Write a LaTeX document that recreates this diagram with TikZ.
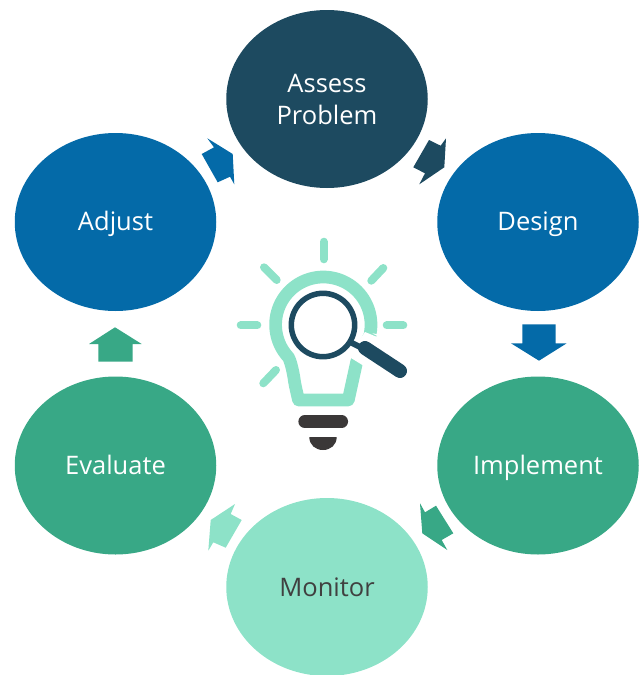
\documentclass[tikz,border=0pt]{standalone}
\usepackage{fontspec}
\setmainfont{Open Sans}
\usetikzlibrary{shapes.geometric}
\definecolor{mint}{HTML}{8DE2C8}
\definecolor{navy}{HTML}{1D4A60}
\definecolor{blueA}{HTML}{046AA8}
\definecolor{greenA}{HTML}{38A886}
\definecolor{baseC}{HTML}{3B3838}
\definecolor{txtC}{HTML}{404040}
\newcommand{\lineprop}{\rule[-6pt]{0pt}{30pt}}
\tikzset{
  stage/.style={ellipse,draw=none,inner sep=0pt,outer sep=0pt,minimum width=201.5pt,minimum height=178pt,
    align=center,text=white,font=\fontsize{25.5}{31}\selectfont},
  blockarrow/.style={draw=none},
  ray/.style={draw=mint,line width=8pt,line cap=round},
}
\begin{document}
\begin{tikzpicture}[x=1pt,y=-1pt]
\useasboundingbox (0,0) rectangle (638,675);
% stages
\node[stage,fill=navy] (assess) at (327,99) {\rule{0pt}{24.5pt}Assess\\[0.5pt]Problem\lineprop};
\node[stage,fill=blueA] (design) at (538,222) {Design\lineprop};
\node[stage,fill=greenA] (implement) at (538,465.5) {Implement\lineprop};
\node[stage,fill=mint,text=txtC] (monitor) at (327,587) {Monitor\lineprop};
\node[stage,fill=greenA] (evaluate) at (115.5,465.5) {Evaluate\lineprop};
\node[stage,fill=blueA] (adjust) at (115.5,222) {Adjust\lineprop};
% block arrows
\fill[blockarrow,navy] (446,138.3) -- (444.3,167.3) -- (419.3,184.3) -- (425,173.3) -- (413.3,167.3) -- (429,140) -- (440.7,145.7) -- cycle;
\fill[blockarrow,blueA] (522.3,324.3) -- (555.7,324.3) -- (555.7,343.3) -- (566.7,343.3) -- (539,360.7) -- (511,343.3) -- (522.3,343.3) -- cycle;
\fill[blockarrow,greenA] (420,503.3) -- (425,512.3) -- (436,505.7) -- (453.3,533.3) -- (441.7,540) -- (447.3,550) -- (422.3,533.3) -- cycle;
\fill[blockarrow,mint] (235,504) -- (230.7,514) -- (241.7,520) -- (225.7,547.7) -- (213.3,542.3) -- (208.3,550.7) -- (210.7,520) -- cycle;
\fill[blockarrow,greenA] (115,327.3) -- (141.7,344) -- (132.7,344) -- (132.7,361.7) -- (98.3,361.7) -- (98.3,344) -- (89,344) -- cycle;
\fill[blockarrow,blueA] (207.3,138.3) -- (232.7,154) -- (234.3,184.3) -- (230,176.7) -- (217.7,182.3) -- (201.7,154) -- (214,147.3) -- cycle;
% rays
\draw[ray] (323.7,241.7) -- (323.7,259.3);
\draw[ray] (264,267.3) -- (276.7,280);
\draw[ray] (383.3,268) -- (371.3,280.7);
\draw[ray] (240.7,325.3) -- (257.3,325.3);
\draw[ray] (386.7,325.3) -- (403.3,325.3);
\draw[ray] (276,370) -- (263.3,383.3);
% bulb
\draw[mint,line width=12.7pt,line join=round]
  plot[domain=10:-223,samples=80] ({323.3+47.7*cos(\x)},{324.7+47.7*sin(\x)})
  .. controls (291,362) and (293,372) .. (294,378)
  .. controls (295,386) and (297,393) .. (298.5,400)
  -- (348.3,400) -- (356.7,361.7) -- (371,333);
\fill[white] (365,332) -- (382,339) -- (366.7,367.7) -- (348.3,356.3) -- cycle;
% magnifier
\draw[navy,line width=5.5pt] (323,325) circle[radius=31.7];
\draw[navy,line width=6pt] (350,342) -- (366,350);
\draw[navy,line width=14pt,line cap=round] (365,348) -- (400,371);
% base
\draw[baseC,line width=12.7pt,line cap=round] (304.7,421.6) -- (341.7,421.6);
\fill[baseC] (309.3,437) -- (336.7,437) .. controls (336.7,445) and (330.5,450) .. (323,450) .. controls (315.5,450) and (309.3,445) .. (309.3,437) -- cycle;
\end{tikzpicture}
\end{document}
